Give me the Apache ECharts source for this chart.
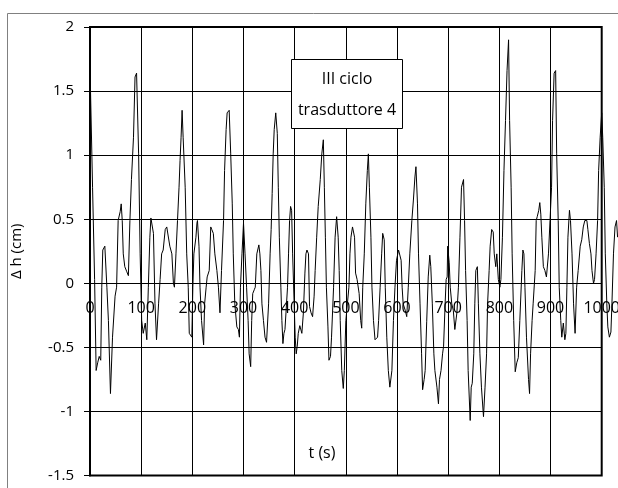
<!DOCTYPE html>
<html>
<head>
<meta charset="utf-8">
<script src="https://cdn.jsdelivr.net/npm/echarts@6/dist/echarts.min.js"></script>
<style>
html,body{margin:0;padding:0;background:#fff;}
#chart{width:618px;height:488px;}
</style>
</head>
<body>
<div id="chart"></div>
<script>
// time (s)
const times = [0,5,9,12,15,18,21,23,25,29,33,36,40,44,49,52,55,59,61,63,65,68,72,75,78,81,85,88,91,95,98,
101,104,108,111,114,117,119,124,127,130,134,137,140,143,147,150,153,156,160,163,165,168,171,174,176,178,180,182,186,189,192,194,197,199,
201,203,207,209,210,213,215,218,222,224,227,229,233,236,238,241,244,248,251,254,257,261,263,266,268,272,275,278,280,283,287,290,292,294,297,
300,303,306,309,311,314,316,318,321,323,326,330,332,334,336,339,342,345,349,352,354,356,358,360,363,366,368,370,373,375,377,379,381,383,386,388,390,392,394,396,399,
401,403,405,407,410,414,417,420,422,424,427,429,432,435,438,440,443,446,450,453,456,458,460,462,465,467,470,472,476,479,482,485,487,489,492,495,497,
500,503,506,508,510,513,515,517,519,522,526,529,531,533,536,539,542,544,546,549,551,554,557,559,562,564,567,570,572,575,577,580,583,586,590,593,596,599,
603,606,608,610,612,616,619,622,625,629,632,635,637,640,642,645,648,650,653,655,658,661,664,666,669,672,674,678,681,683,686,689,691,694,696,698,699,
702,704,707,710,713,717,720,723,726,730,732,734,737,739,743,745,747,750,752,754,757,759,762,765,769,772,775,777,780,782,785,788,790,793,795,798,
801,803,806,809,812,815,818,820,823,825,828,831,834,837,840,844,846,848,850,853,857,859,861,864,866,870,872,874,877,879,881,883,886,889,892,896,899,
902,904,907,910,912,915,917,920,922,925,928,930,932,934,937,939,942,945,948,951,954,958,961,964,967,971,973,976,979,981,984,986,989,992,994,997,
1000,1002,1005,1007,1010,1012,1015,1018,1020,1023,1026,1029,1031];
// delta h (cm)
const deltaH = [1.69,0.75,0.03,-0.68,-0.62,-0.57,-0.60,-0.03,0.26,0.29,-0.03,-0.29,-0.86,-0.42,-0.10,-0.03,0.49,0.56,0.62,0.49,0.23,0.13,0.09,0.06,0.49,0.81,1.14,1.61,1.64,1.01,0.23,
-0.29,-0.39,-0.31,-0.44,-0.03,0.36,0.51,0.39,-0.16,-0.44,-0.16,0.03,0.23,0.26,0.42,0.44,0.43,0.29,0.23,0.00,-0.03,0.23,0.49,0.75,0.96,1.14,1.35,1.14,0.75,0.23,-0.03,-0.39,-0.39,-0.42,
-0.03,0.23,0.36,0.47,0.49,0.29,-0.03,-0.29,-0.48,-0.16,-0.03,0.05,0.10,0.44,0.42,0.39,0.23,0.10,-0.03,-0.23,0.10,0.49,0.88,1.20,1.33,1.35,1.01,0.62,0.23,-0.16,-0.34,-0.36,-0.42,-0.03,0.23,
0.47,0.23,-0.03,-0.29,-0.55,-0.65,-0.29,-0.08,-0.05,-0.03,0.23,0.30,0.23,0.10,-0.16,-0.29,-0.42,-0.46,-0.16,0.23,0.42,0.70,1.01,1.20,1.33,1.17,0.75,0.36,-0.03,-0.29,-0.47,-0.39,-0.36,-0.23,-0.03,0.23,0.49,0.60,0.57,0.23,-0.16,
-0.42,-0.55,-0.49,-0.39,-0.33,-0.39,-0.23,0.08,0.23,0.26,0.23,-0.18,-0.23,-0.26,-0.10,0.10,0.36,0.60,0.81,1.01,1.12,0.75,0.36,-0.03,-0.34,-0.60,-0.57,-0.42,-0.03,0.36,0.52,0.36,0.10,-0.29,-0.68,-0.82,-0.68,
-0.29,-0.16,-0.03,0.23,0.36,0.44,0.45,0.36,0.08,0.03,-0.08,-0.29,-0.35,-0.03,0.23,0.62,0.88,1.01,0.75,0.36,-0.03,-0.29,-0.44,-0.44,-0.42,-0.29,-0.03,0.23,0.39,0.34,-0.03,-0.42,-0.68,-0.81,-0.68,-0.29,-0.03,0.18,
0.26,0.26,0.18,-0.03,-0.16,-0.21,-0.26,-0.03,0.23,0.49,0.65,0.83,0.91,0.62,0.23,-0.16,-0.55,-0.83,-0.75,-0.68,-0.30,0.05,0.22,0.13,-0.16,-0.55,-0.68,-0.81,-0.94,-0.75,-0.68,-0.55,-0.49,-0.16,0.03,0.05,0.29,
0.16,-0.03,-0.16,-0.21,-0.36,-0.23,-0.03,0.36,0.75,0.81,0.49,0.10,-0.29,-0.68,-1.07,-0.81,-0.78,-0.55,-0.16,0.10,0.13,-0.16,-0.55,-0.81,-1.04,-0.81,-0.55,-0.16,0.10,0.29,0.42,0.40,0.23,0.13,0.23,0.03,
-0.03,0.03,0.36,0.88,1.27,1.66,1.90,1.27,0.75,0.23,-0.29,-0.69,-0.62,-0.58,-0.29,0.10,0.26,0.23,-0.03,-0.42,-0.75,-0.86,-0.55,-0.29,-0.16,0.10,0.49,0.52,0.57,0.63,0.54,0.36,0.13,0.10,0.05,0.23,0.49,
0.75,1.27,1.64,1.66,1.01,0.49,-0.03,-0.29,-0.42,-0.31,-0.44,-0.39,-0.03,0.36,0.57,0.49,0.23,-0.16,-0.39,-0.03,0.10,0.29,0.34,0.44,0.49,0.49,0.42,0.31,0.23,0.10,0.00,0.03,0.23,0.49,0.88,1.14,
1.33,1.14,0.75,0.23,-0.16,-0.34,-0.42,-0.38,-0.16,0.23,0.44,0.49,0.36];

// axis ticks
const xTicks = [0,100,200,300,400,500,600,700,800,900,1000];
const yTicks = [-1.5,-1,-0.5,0,0.5,1,1.5,2];
const boxLines = ['III ciclo', 'trasduttore 4'];
const xName = 't (s)';
const yName = '\u0394 h (cm)';

const FONT = '"Open Sans", "DejaVu Sans", sans-serif';
const seriesData = times.map((t, i) => [t, deltaH[i]]);

const chart = echarts.init(document.getElementById('chart'), null, {renderer: 'canvas'});
const xMin = xTicks[0], xMax = xTicks[xTicks.length - 1], xStep = xTicks[1] - xTicks[0];
const yMin = yTicks[0], yMax = yTicks[yTicks.length - 1], yStep = yTicks[1] - yTicks[0];

// grid geometry (layout only)
const W = 618, H = 488;
const gridLeft = 90, gridTop = 27, gridRight = 16.3, gridBottom = 12.4;
const gridHeight = H - gridTop - gridBottom;
const plotW = W - gridLeft - gridRight;       // visible frame width
const plotWExt = W - gridLeft;                // the trace runs on to the picture edge
// the x axis sits on y = 0
const zeroOffset = -gridHeight * (0 - yMin) / (yMax - yMin);
// same scale as the visible axis, but reaching the right edge of the picture
const xMaxExt = xMin + (xMax - xMin) * plotWExt / plotW;

chart.setOption({
  animation: false,
  backgroundColor: '#fff',
  grid: [
    {left: gridLeft, top: gridTop, right: gridRight, bottom: gridBottom, containLabel: false,
     outerBoundsMode: 'none',
     show: true, borderColor: '#000', borderWidth: 2, backgroundColor: 'transparent'},
    {left: gridLeft, top: gridTop, right: 0, bottom: gridBottom, containLabel: false,
     outerBoundsMode: 'none', show: false}
  ],
  xAxis: [
    {
      gridIndex: 0, type: 'value', min: xMin, max: xMax, interval: xStep,
      position: 'bottom', offset: zeroOffset,
      axisLine: {show: true, onZero: false, lineStyle: {color: '#000', width: 1}},
      axisTick: {show: false},
      axisLabel: {color: '#000', fontSize: 16, margin: 17, fontFamily: FONT,
                  showMaxLabel: true, showMinLabel: true, formatter: v => String(v)},
      splitLine: {show: true, lineStyle: {color: '#000', width: 1}}
    },
    {
      gridIndex: 1, type: 'value', min: xMin, max: xMaxExt, show: false,
      axisLine: {onZero: false}, splitLine: {show: false}
    }
  ],
  yAxis: [
    {
      gridIndex: 0, type: 'value', min: yMin, max: yMax, interval: yStep,
      axisLine: {show: true, onZero: false, lineStyle: {color: '#000', width: 2}},
      axisTick: {show: true, length: 6, lineStyle: {color: '#000', width: 1}},
      axisLabel: {color: '#000', fontSize: 15, margin: 16, fontFamily: FONT},
      splitLine: {show: true, lineStyle: {color: '#000', width: 1}},
      name: yName, nameLocation: 'middle', nameGap: 66, nameRotate: 90,
      nameTextStyle: {color: '#000', fontSize: 15, fontFamily: FONT}
    },
    {
      gridIndex: 1, type: 'value', min: yMin, max: yMax, show: false,
      axisLine: {onZero: false}, splitLine: {show: false}
    }
  ],
  series: [{
    type: 'line',
    data: seriesData,
    xAxisIndex: 1, yAxisIndex: 1,
    showSymbol: false, symbol: 'none',
    lineStyle: {color: '#000', width: 1},
    z: 5
  }],
  graphic: [
    {type: 'rect', z: 0, silent: true, shape: {x: 7.5, y: 13.5, width: 700, height: 700},
     style: {fill: 'none', stroke: '#808080', lineWidth: 1}},
    {type: 'rect', z: 100, silent: true, shape: {x: 291.5, y: 59.5, width: 111, height: 69},
     style: {fill: '#fff', stroke: '#000', lineWidth: 1}},
    {type: 'text', z: 101, silent: true, x: 347, y: 79,
     style: {text: boxLines[0], fill: '#000', font: '16px ' + FONT, textAlign: 'center', textVerticalAlign: 'middle'}},
    {type: 'text', z: 101, silent: true, x: 347, y: 110,
     style: {text: boxLines[1], fill: '#000', font: '16px ' + FONT, textAlign: 'center', textVerticalAlign: 'middle'}},
    {type: 'text', z: 101, silent: true, x: 322, y: 453,
     style: {text: xName, fill: '#000', font: '16px ' + FONT, textAlign: 'center', textVerticalAlign: 'middle'}}
  ]
});
</script>
</body>
</html>
